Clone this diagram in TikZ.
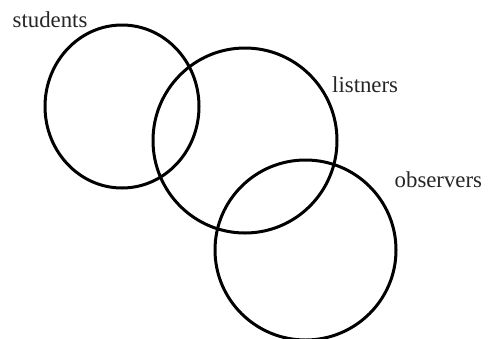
\documentclass[tikz,border=0pt]{standalone}
\usepackage{fontspec}
\setmainfont{Liberation Serif}
\usetikzlibrary{shapes.geometric}
\begin{document}
\begin{tikzpicture}[x=1pt,y=-1pt,
  ring/.style={draw=black, line width=3pt, ellipse, inner sep=0pt, outer sep=0pt},
  lbl/.style={anchor=base west, inner sep=0pt, font=\fontsize{22.8}{27}\selectfont, text=black!85}]
\useasboundingbox[fill=white] (0,0) rectangle (492,338);
\node[ring, minimum width=154pt, minimum height=163pt] (students) at (122,106.5) {};
\node[ring, minimum width=184pt, minimum height=185pt] (listners) at (245,140.5) {};
\node[ring, minimum width=181pt, minimum height=180pt] (observers) at (305.5,250) {};
\node[lbl] (tstudents) at (12.5,27) {students};
\node[lbl] (tlistners) at (332,92.5) {listners};
\node[lbl] (tobservers) at (394.5,187) {observers};
\end{tikzpicture}
\end{document}
